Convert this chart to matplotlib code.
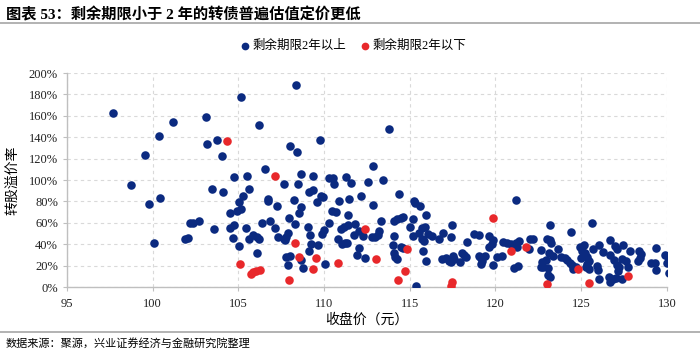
import matplotlib.pyplot as plt
from matplotlib.ticker import FuncFormatter, MultipleLocator

plt.rcParams["font.family"] = ["Liberation Serif", "Noto Sans CJK SC"]
plt.rcParams["axes.unicode_minus"] = False

NAVY = "#0b2a80"
RED = "#e8282b"
GRID = "#d9d9d9"
SPINE = "#bfbfbf"

# 剩余期限2年以上: 收盘价(元), 转股溢价率(%)
long_price = [
    97.67, 105.15, 101.17, 103.09, 106.22, 100.35, 103.15, 103.77, 99.57, 104.06,
    104.72, 105.52, 106.57, 108.0, 98.75, 107.66, 108.36, 113.77, 109.76, 108.44,
    112.87, 108.67, 109.37, 110.27, 110.54, 111.26, 111.57, 112.56, 113.42, 108.46,
    110.58, 103.48, 104.1, 105.27, 105.64, 99.78, 100.44, 105.03, 106.73, 106.7,
    107.27, 104.9, 105.13, 104.53, 102.18, 102.37, 102.7, 103.58, 104.5, 104.74,
    105.44, 106.39, 106.84, 107.15, 107.95, 101.87, 102.06, 104.66, 105.6, 105.87,
    106.1, 106.18, 107.33, 107.74, 100.08, 105.06, 106.07, 107.8, 108.01, 107.89,
    109.14, 109.37, 109.84, 109.96, 109.6, 108.26, 108.67, 108.52, 110.89, 111.45,
    112.14, 112.84, 114.39, 115.25, 115.3, 115.61, 110.46, 110.67, 111.39, 108.3,
    109.06, 110.3, 110.97, 111.16, 111.41, 111.8, 112.05, 113.34, 113.19, 114.08,
    114.27, 114.49, 114.62, 115.17, 115.97, 115.01, 115.71, 115.9, 117.46, 118.76,
    119.02, 116.95, 117.42, 118.35, 116.72, 116.3, 116.06, 115.2, 115.52, 115.71,
    115.83, 114.08, 115.79, 115.95, 107.66, 107.78, 107.91, 109.18, 109.24, 109.63,
    109.14, 109.86, 110.01, 110.79, 111.04, 111.2, 111.35, 111.74, 112.25, 112.79,
    112.99, 113.14, 112.03, 111.94, 112.4, 114.0, 114.08, 114.15, 114.24, 114.47,
    114.62, 115.36, 116.88, 117.11, 117.27, 117.5, 117.58, 117.42, 118.04, 118.16,
    118.28, 117.93, 119.02, 108.67, 108.79, 110.07, 121.2, 123.18, 125.63, 124.39,
    119.6, 119.87, 119.8, 119.64, 120.42, 120.65, 120.89, 121.2, 121.35, 121.27,
    122.01, 122.2, 121.94, 119.1, 119.37, 119.21, 119.17, 120.07, 120.38, 119.87,
    121.08, 121.31, 122.63, 122.98, 123.18, 123.26, 123.1, 123.33, 123.64, 122.71,
    122.95, 122.79, 122.63, 123.06, 123.06, 123.18, 123.8, 124.07, 124.19, 124.35,
    124.46, 124.5, 124.7, 124.93, 125.16, 125.04, 125.24, 125.01, 125.36, 125.44,
    125.32, 125.28, 125.44, 125.7, 126.05, 126.25, 125.9, 125.98, 126.02, 126.68,
    126.99, 127.1, 127.42, 126.68, 126.91, 127.07, 127.22, 127.15, 127.38, 127.61,
    127.73, 126.64, 126.84, 127.03, 126.68, 127.38, 127.85, 128.35, 128.51, 128.43,
    128.31, 129.37, 129.09, 129.32, 129.37, 129.87, 130.06, 129.98, 130.1,
]
long_premium = [
    162.3, 177.6, 154.5, 158.6, 151.7, 141.4, 133.6, 137.1, 123.7, 122.7,
    103.1, 104.0, 110.3, 131.5, 95.3, 96.3, 188.5, 147.4, 137.1, 126.5,
    113.4, 105.3, 104.0, 102.2, 102.2, 103.1, 97.2, 97.8, 99.7, 96.5,
    96.0, 91.9, 88.5, 85.3, 91.6, 77.9, 83.5, 79.4, 82.2, 80.4,
    75.4, 71.3, 72.9, 68.9, 59.8, 59.8, 62.0, 54.2, 55.1, 58.2,
    55.4, 59.5, 61.7, 55.1, 64.6, 44.9, 45.5, 46.1, 44.9, 48.3,
    47.0, 44.9, 46.4, 43.9, 41.1, 38.6, 31.5, 28.3, 29.0, 20.8,
    88.8, 90.7, 85.0, 83.8, 79.7, 81.3, 75.0, 68.9, 80.7, 82.5,
    85.3, 76.9, 86.9, 80.7, 78.2, 75.7, 71.0, 69.8, 67.0, 58.9,
    56.4, 60.1, 53.9, 55.8, 57.9, 58.6, 52.2, 62.0, 52.6, 61.4,
    63.3, 64.8, 65.7, 63.8, 67.3, 56.4, 55.1, 56.4, 57.9, 49.2,
    48.6, 50.2, 47.0, 42.3, 44.6, 47.7, 49.5, 47.4, 50.2, 45.1,
    42.7, 47.9, 33.3, 24.6, 44.6, 47.0, 50.2, 48.6, 40.2, 39.5,
    33.9, 49.5, 53.3, 44.9, 40.2, 41.4, 41.4, 48.3, 47.7, 47.0,
    47.0, 48.3, 36.4, 30.2, 27.1, 39.5, 32.1, 27.8, 25.9, 37.7,
    36.4, 1.2, 25.9, 27.1, 24.6, 29.0, 25.9, 23.4, 32.1, 29.6,
    27.8, 23.4, 29.0, 25.2, 18.0, 21.5, 81.3, 57.7, 60.1, 51.4,
    47.4, 43.9, 40.2, 37.1, 42.1, 41.4, 40.2, 40.8, 42.7, 37.1,
    45.1, 45.1, 35.8, 28.3, 29.0, 24.6, 21.5, 27.8, 29.0, 20.8,
    17.8, 19.6, 34.6, 44.6, 43.9, 40.8, 31.5, 29.0, 35.2, 23.4,
    25.2, 19.0, 18.4, 17.8, 11.5, 9.1, 27.8, 27.1, 25.2, 22.7,
    20.8, 17.1, 19.0, 37.7, 39.5, 33.4, 31.5, 27.1, 27.8, 24.0,
    21.5, 18.4, 17.1, 35.2, 39.5, 32.7, 19.6, 15.9, 7.8, 43.9,
    38.3, 35.2, 39.0, 29.6, 25.2, 20.3, 18.4, 14.7, 25.9, 24.6,
    18.4, 9.1, 7.8, 8.4, 4.7, 7.8, 33.9, 33.3, 30.8, 27.1,
    24.6, 36.4, 22.7, 22.1, 15.9, 30.2, 27.8, 22.1, 13.4,
]

# 剩余期限2年以下
short_price = [
    104.32, 107.15, 105.11, 105.72, 105.87, 106.01, 106.28, 107.93, 112.4, 113.03,
    114.82, 114.74, 114.31, 117.44, 117.38, 108.55, 109.53, 109.37, 110.79, 108.32,
    119.87, 120.89, 121.78, 123.02, 124.83, 125.44, 127.73,
]
short_premium = [
    136.4, 103.7, 21.8, 12.1, 14.0, 15.0, 15.9, 6.5, 53.9, 25.9,
    35.2, 14.7, 6.5, 4.4, 0.9, 27.8, 26.8, 16.5, 22.4, 41.4,
    64.2, 33.9, 37.1, 2.8, 17.1, 4.0, 10.3,
]

fig = plt.figure(figsize=(7, 3.5), dpi=100)
ax = fig.add_axes([0.0957, 0.18, 0.857, 0.6114])

ax.scatter(long_price, long_premium, s=38, color=NAVY, linewidths=0,
           zorder=3, label="剩余期限2年以上")
ax.scatter(short_price, short_premium, s=38, color=RED, linewidths=0,
           zorder=4, label="剩余期限2年以下")

ax.set_xlim(95, 130)
ax.set_ylim(0, 200)
ax.xaxis.set_major_locator(MultipleLocator(5))
ax.yaxis.set_major_locator(MultipleLocator(20))
ax.yaxis.set_major_formatter(FuncFormatter(lambda v, _: f"{v:.0f}%"))
ax.grid(True, color=GRID, linestyle=(0, (3, 3)), linewidth=0.8, zorder=0)
ax.set_axisbelow(True)

for side in ("top", "right"):
    ax.spines[side].set_visible(False)
for side in ("left", "bottom"):
    ax.spines[side].set_color(SPINE)
    ax.spines[side].set_linewidth(1.0)
ax.tick_params(axis="both", colors=SPINE, labelcolor="#222222",
               labelsize=9, length=3, width=0.8)
ax.tick_params(axis="x", pad=5)

ax.set_xlabel("收盘价（元）", fontsize=10, labelpad=2)
ax.set_ylabel("转股溢价率", fontsize=10, labelpad=2)
ax.yaxis.set_label_coords(-0.078, 0.5)

fig.legend(loc="center", bbox_to_anchor=(0.503, 0.868), ncol=2, frameon=False,
           fontsize=9, handletextpad=0.0, columnspacing=0.9,
           handlelength=1.2, markerscale=0.9)

fig.text(0.008, 0.958, "图表 53：剩余期限小于 2 年的转债普遍估值定价更低",
         fontsize=11, fontweight="bold", va="center", ha="left")
fig.add_artist(plt.Line2D([0, 1], [0.935, 0.935], color="#a6a6a6",
                          linewidth=1.2, transform=fig.transFigure))
fig.add_artist(plt.Line2D([0, 1], [0.052, 0.052], color="#a6a6a6",
                          linewidth=1.2, transform=fig.transFigure))
fig.text(0.008, 0.018, "数据来源：聚源，兴业证券经济与金融研究院整理",
         fontsize=8, va="center", ha="left")

fig.savefig("out.png", dpi=100)
